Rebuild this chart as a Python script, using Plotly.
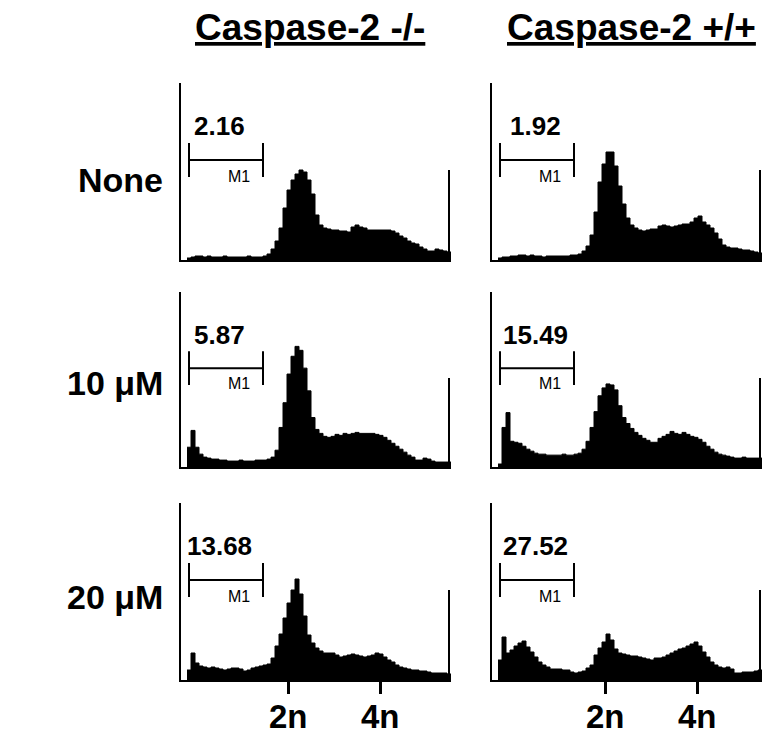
import plotly.graph_objects as go

# ---------------- data ----------------
# histogram bins (left edge of each 4-channel bin, DNA content channel)
BIN_LEFT = list(range(6, 270, 4))
BIN_WIDTH = 4

# cell counts per bin (relative units)
NONE_KO = [2, 3, 4, 4, 3, 4, 3, 3, 3, 4, 3, 3, 3, 3, 3, 4, 3, 3, 3, 4,
           6, 11, 19, 32, 52, 70, 80, 86, 90, 88, 80, 66, 45, 35, 32, 31,
           30, 30, 29, 29, 28, 33, 35, 33, 32, 30, 30, 30, 30, 30, 30, 29,
           27, 24, 22, 19, 17, 16, 13, 11, 9, 9, 11, 10, 9, 8]
NONE_WT = [2, 3, 3, 4, 4, 5, 5, 4, 5, 4, 4, 3, 4, 4, 4, 4, 4, 4, 5, 5,
           6, 9, 14, 25, 48, 78, 96, 108, 108, 94, 74, 56, 42, 35, 32, 30,
           29, 30, 31, 31, 34, 35, 34, 33, 34, 35, 36, 36, 38, 42, 44, 38,
           35, 32, 27, 21, 15, 13, 12, 12, 11, 10, 10, 9, 8, 7]
UM10_KO = [20, 37, 20, 13, 10, 9, 8, 8, 7, 7, 6, 6, 6, 7, 6, 6, 6, 7, 7, 7,
           8, 10, 17, 40, 65, 94, 112, 122, 118, 100, 77, 50, 38, 34, 31, 30,
           31, 33, 32, 34, 33, 34, 35, 34, 34, 34, 34, 33, 32, 30, 27, 24,
           21, 18, 15, 12, 10, 7, 7, 9, 8, 6, 5, 5, 5, 5]
UM10_WT = [3, 40, 55, 26, 25, 24, 21, 18, 16, 14, 13, 13, 12, 12, 12, 12, 13, 12, 12, 13,
           14, 18, 26, 40, 56, 72, 80, 84, 83, 78, 62, 50, 44, 39, 35, 32,
           29, 27, 25, 25, 29, 31, 33, 36, 34, 33, 35, 33, 31, 30, 28, 25,
           21, 18, 15, 13, 12, 11, 10, 9, 9, 10, 9, 9, 9, 9]
UM20_KO = [10, 27, 17, 14, 13, 12, 13, 12, 11, 10, 11, 12, 12, 11, 9, 10, 12, 13, 14, 15,
           16, 22, 34, 46, 62, 77, 90, 101, 86, 64, 45, 37, 32, 29, 27, 27,
           27, 25, 23, 24, 25, 26, 25, 24, 23, 24, 25, 27, 26, 23, 20, 18,
           15, 13, 12, 11, 10, 10, 9, 9, 8, 7, 7, 7, 7, 6]
UM20_WT = [20, 43, 27, 30, 34, 37, 39, 33, 28, 23, 18, 15, 13, 11, 11, 11, 10, 10, 8, 7,
           8, 9, 12, 15, 25, 32, 38, 46, 40, 31, 27, 26, 25, 24, 24, 23,
           22, 21, 20, 22, 22, 23, 25, 27, 29, 31, 32, 34, 36, 38, 34, 28,
           23, 18, 15, 13, 12, 13, 11, 7, 7, 8, 8, 8, 9, 10]

COLUMN_TITLES = ["Caspase-2 -/-", "Caspase-2 +/+"]
ROW_LABELS = ["None", "10 \u03bcM", "20 \u03bcM"]
HISTOGRAMS = [[NONE_KO, NONE_WT], [UM10_KO, UM10_WT], [UM20_KO, UM20_WT]]
M1_PERCENT = [["2.16", "1.92"], ["5.87", "15.49"], ["13.68", "27.52"]]
M1_GATE = [8, 82]                     # marker gate channels
PLOIDY_TICKS = [[107, 199], [113, 205]]  # 2n / 4n channels per column
PLOIDY_LABELS = ["2n", "4n"]

# ---------------- layout constants ----------------
W, H = 770, 738
COL_PX = [(181, 451), (492, 762)]
ROW_PX = [(83, 260), (292, 467), (503, 680)]
X_MAX = 270
Y_MAX = 177
FONT = "Liberation Sans, Arial, Helvetica, sans-serif"

fig = go.Figure()
layout = dict(width=W, height=H, margin=dict(l=0, r=0, t=0, b=0),
              paper_bgcolor="white", plot_bgcolor="white", showlegend=False,
              font=dict(family=FONT, color="black"))
shapes, annotations = [], []

idx = 0
for r in range(3):
    for c in range(2):
        idx += 1
        sx = "" if idx == 1 else str(idx)
        xref, yref = "x" + sx, "y" + sx
        counts = HISTOGRAMS[r][c]
        xs = BIN_LEFT + [BIN_LEFT[-1] + BIN_WIDTH]
        ys = counts + [counts[-1]]
        fig.add_trace(go.Scatter(x=xs, y=ys, mode="lines", line_shape="hv",
                                 line=dict(color="black", width=1),
                                 fill="tozeroy", fillcolor="black",
                                 xaxis=xref, yaxis=yref, hoverinfo="skip"))
        x0, x1 = COL_PX[c]
        y0, y1 = ROW_PX[r]
        xa = dict(domain=[x0 / W, x1 / W], range=[0, X_MAX], showline=True,
                  linecolor="black", linewidth=2, showgrid=False, zeroline=False,
                  anchor=yref, fixedrange=True, showticklabels=False)
        if r == 2:
            xa.update(tickmode="array", tickvals=PLOIDY_TICKS[c],
                      ticks="outside", ticklen=12, tickwidth=3, tickcolor="black")
            for tv, tt in zip(PLOIDY_TICKS[c], PLOIDY_LABELS):
                annotations.append(dict(xref=xref, yref="paper", x=tv, y=1 - 716 / H,
                                        text="<b>%s</b>" % tt, showarrow=False,
                                        xanchor="center", yanchor="middle",
                                        font=dict(size=33, family=FONT)))
        else:
            xa.update(ticks="")
        ya = dict(domain=[1 - y1 / H, 1 - y0 / H], range=[0, Y_MAX], showline=True,
                  linecolor="black", linewidth=2, showgrid=False, zeroline=False,
                  showticklabels=False, ticks="", anchor=xref, fixedrange=True)
        layout["xaxis" + sx] = xa
        layout["yaxis" + sx] = ya

        # right-hand cursor line
        shapes.append(dict(type="line", xref=xref, yref=yref, x0=268, x1=268, y0=0, y1=90,
                           line=dict(color="black", width=2)))
        # M1 gate marker
        g0, g1 = M1_GATE
        shapes.append(dict(type="line", xref=xref, yref=yref, x0=g0, x1=g1, y0=100, y1=100,
                           line=dict(color="black", width=2)))
        for g in M1_GATE:
            shapes.append(dict(type="line", xref=xref, yref=yref, x0=g, x1=g, y0=83, y1=117,
                               line=dict(color="black", width=2)))
        annotations.append(dict(xref=xref, yref=yref, x=71, y=84, text="M1",
                                showarrow=False, xanchor="right", yanchor="middle",
                                font=dict(size=16, family=FONT)))
        annotations.append(dict(xref=xref, yref=yref, x=38 if c == 0 else 43, y=134,
                                text="<b>%s</b>" % M1_PERCENT[r][c], showarrow=False,
                                xanchor="center", yanchor="middle",
                                font=dict(size=26, family=FONT)))

# column titles
for c, t in enumerate(COLUMN_TITLES):
    cx = [310, 631][c]
    annotations.append(dict(xref="paper", yref="paper", x=cx / W, y=1 - 28 / H,
                            text="<b><u>%s</u></b>" % t, showarrow=False,
                            xanchor="center", yanchor="middle",
                            font=dict(size=37, family=FONT)))
# row labels
for r, t in enumerate(ROW_LABELS):
    cy = [180, 383, 597][r]
    annotations.append(dict(xref="paper", yref="paper", x=165 / W, y=1 - cy / H,
                            text="<b>%s</b>" % t, showarrow=False,
                            xanchor="right", yanchor="middle",
                            font=dict(size=34, family=FONT)))

layout["shapes"] = shapes
layout["annotations"] = annotations
fig.update_layout(**layout)
fig.write_html("out.html", config={"displayModeBar": False},
               post_script="document.body.style.margin='0px';document.body.style.overflow='hidden';")
